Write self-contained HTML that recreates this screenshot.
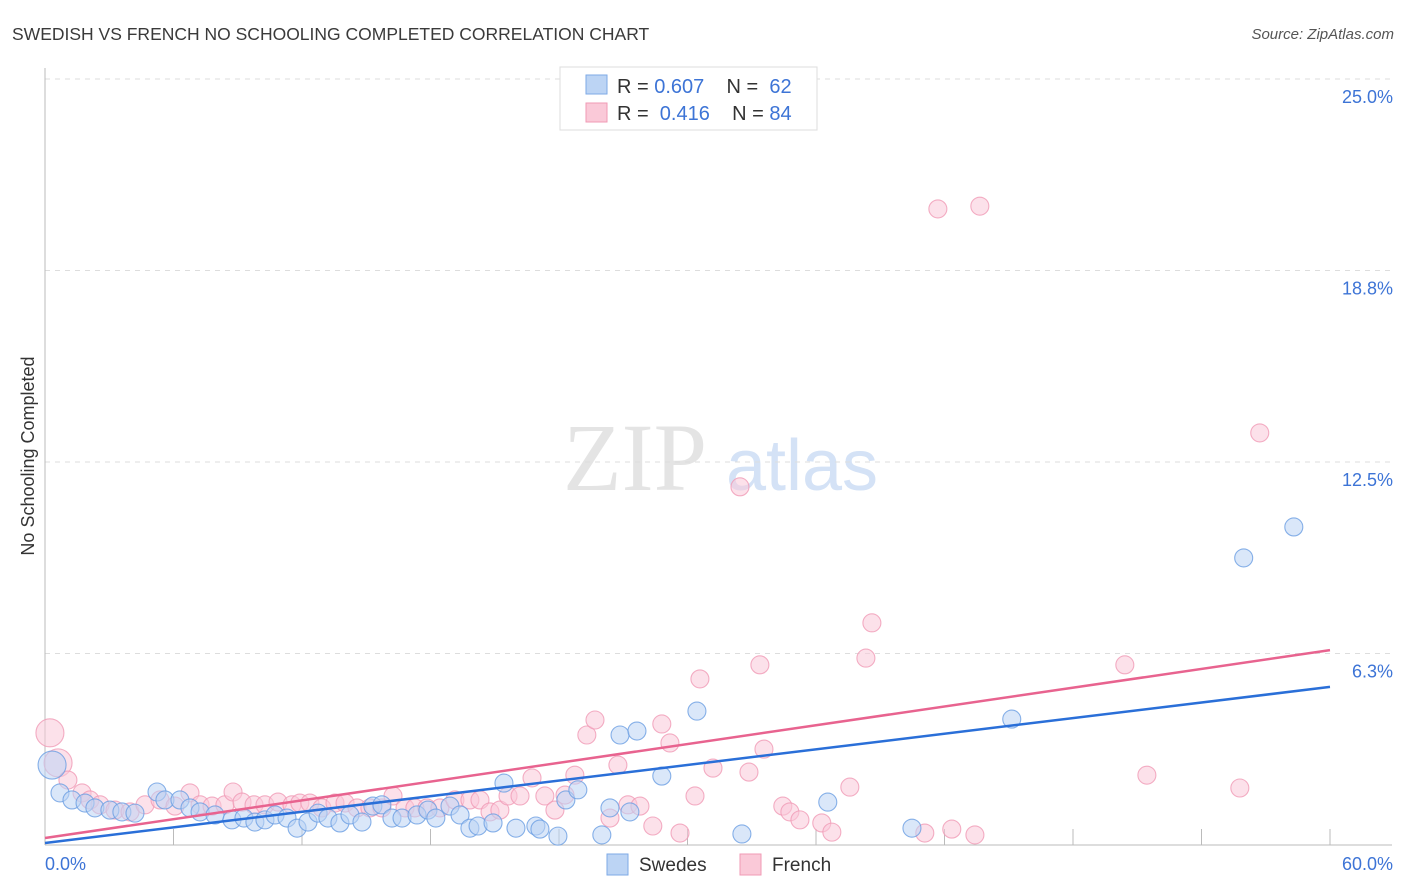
<!DOCTYPE html>
<html><head><meta charset="utf-8"><style>
body{margin:0;background:#fff;font-family:"Liberation Sans",sans-serif;}
svg{display:block}
</style></head><body>
<svg id="chart" width="1406" height="892" viewBox="0 0 1406 892" xmlns="http://www.w3.org/2000/svg">
<text x="12" y="40" font-size="17.5" fill="#3a3a3a">SWEDISH VS FRENCH NO SCHOOLING COMPLETED CORRELATION CHART</text>
<text x="1394" y="39" font-size="15" fill="#555" font-style="italic" text-anchor="end">Source: ZipAtlas.com</text>
<text transform="translate(34,456) rotate(-90)" font-size="18" fill="#333" text-anchor="middle">No Schooling Completed</text>
<g>
<text x="635" y="490" font-size="96" font-family="Liberation Serif,serif" fill="#e4e4e4" text-anchor="middle">ZIP</text>
<text x="802" y="490" font-size="72" fill="#d4e2f6" text-anchor="middle">atlas</text>
</g>
<g id="grid"></g>
<g id="axes"></g>
<g id="points"></g>
<g id="trends"></g>
<g>
<rect x="560" y="67" width="257" height="63" fill="#fff" stroke="#ddd"/>
<rect x="586" y="75" width="21" height="19" fill="#bcd4f4" stroke="#7eaae6"/>
<rect x="586" y="103" width="21" height="19" fill="#fac9d8" stroke="#f09ab5"/>
<text x="617" y="93" font-size="20" fill="#333" xml:space="preserve">R = <tspan fill="#3d74d6">0.607</tspan>    N =  <tspan fill="#3d74d6">62</tspan></text>
<text x="617" y="120" font-size="20" fill="#333" xml:space="preserve">R =  <tspan fill="#3d74d6">0.416</tspan>    N = <tspan fill="#3d74d6">84</tspan></text>
</g>
<g>
<rect x="607" y="854" width="21" height="21" fill="#bcd4f4" stroke="#7eaae6"/>
<text x="639" y="871" font-size="19" fill="#333">Swedes</text>
<rect x="740" y="854" width="21" height="21" fill="#fac9d8" stroke="#f09ab5"/>
<text x="772" y="871" font-size="19" fill="#333">French</text>
</g>
</svg>
<script>
const yTicks=[6.25,12.5,18.75,25];
const yTickLabels=["6.3%","12.5%","18.8%","25.0%"];
const xTickLabels=["0.0%","60.0%"];
const swedesX=[0.33,0.70,1.26,1.87,2.33,3.03,3.59,4.20,5.23,5.60,6.30,6.77,7.24,7.94,8.73,9.29,9.80,10.27,10.74,11.30,11.77,12.28,12.75,13.21,13.77,14.24,14.80,15.31,15.73,16.20,16.67,17.37,17.88,18.25,18.91,19.38,19.84,20.22,20.92,21.43,21.99,22.92,23.11,23.95,24.32,24.88,26.00,26.38,26.85,27.31,27.64,28.80,30.44,32.54,36.55,40.48,45.14,55.97,58.31];
const swedesY=[2.61,1.70,1.47,1.37,1.21,1.14,1.08,1.04,1.73,1.47,1.47,1.21,1.08,0.98,0.82,0.88,0.75,0.82,0.98,0.88,0.55,0.75,1.04,0.88,0.72,0.98,0.75,1.27,1.31,0.88,0.88,0.98,1.14,0.88,1.27,0.98,0.55,0.62,0.72,2.02,0.55,0.62,0.52,0.29,1.47,1.80,0.33,1.21,3.59,1.08,3.72,2.25,4.37,0.36,1.40,0.55,4.11,9.37,10.38];
const frenchX=[0.23,0.61,1.07,1.73,2.10,2.57,3.27,3.97,4.67,5.37,6.07,6.77,7.24,7.80,8.40,8.78,9.20,9.76,10.27,10.88,11.53,11.90,12.37,12.93,13.54,14.01,14.57,15.17,15.73,16.25,16.81,17.27,17.83,18.44,19.14,19.84,20.31,20.78,21.24,21.62,22.18,22.74,23.34,23.81,24.28,24.74,25.30,25.68,26.38,26.75,27.22,27.78,28.38,28.80,29.18,29.65,30.35,30.58,31.19,32.45,32.87,33.38,33.57,34.45,34.78,35.25,36.27,36.74,37.58,38.33,38.61,41.08,41.69,42.34,43.65,43.42,50.42,51.45,55.79,56.72];
const frenchY=[3.66,2.68,2.12,1.70,1.47,1.31,1.14,1.08,1.31,1.47,1.27,1.70,1.31,1.27,1.31,1.73,1.40,1.31,1.31,1.40,1.31,1.37,1.37,1.21,1.37,1.37,1.21,1.21,1.21,1.60,1.21,1.21,1.21,1.21,1.47,1.47,1.47,1.08,1.14,1.60,1.60,2.19,1.60,1.14,1.63,2.28,3.59,4.08,0.88,2.61,1.31,1.27,0.62,3.95,3.33,0.39,1.60,5.42,2.51,11.69,2.38,5.88,3.13,1.27,1.08,0.82,0.72,0.42,1.89,6.10,7.25,0.39,20.76,0.52,20.85,0.33,5.88,2.28,1.86,13.45];
const swedesTrend=[0.065,5.16];
const frenchTrend=[0.23,6.36];
const X0=45,X1=1330,Y0=845,Y1=79;
const xs=v=>X0+(v/60)*(X1-X0);
const ys=v=>Y0-(v/25)*(Y0-Y1);
const NS="http://www.w3.org/2000/svg";
function mk(tag,attrs,parent){const e=document.createElementNS(NS,tag);for(const k in attrs)e.setAttribute(k,attrs[k]);parent.appendChild(e);return e;}
const grid=document.getElementById('grid'),axes=document.getElementById('axes');
yTicks.forEach((t,i)=>{
 const l=mk('line',{x1:X0,x2:1392,y1:ys(t),y2:ys(t),stroke:'#ddd','stroke-dasharray':'5,5'},grid);
 
 
 const tx=mk('text',{x:1393,y:ys(t)+24,'font-size':18,fill:'#3d74d6','text-anchor':'end'},axes);
 tx.textContent=yTickLabels[i];
 
 
});
const ax=mk('line',{x1:X0,x2:X0,y1:68,y2:Y0,stroke:'#bbb'},axes);


const bx=mk('line',{x1:X0,x2:1392,y1:Y0,y2:Y0,stroke:'#bbb'},axes);


for(let k=1;k<=10;k++){const t=mk('line',{x1:xs(k*6),x2:xs(k*6),y1:Y0,y2:Y0-16,stroke:'#bbb'},axes);
 
 }
[[0,xTickLabels[0],'start',45],[60,xTickLabels[1],'end',1393]].forEach(a=>{
 const t=mk('text',{x:a[3],y:870,'font-size':18,fill:'#3d74d6','text-anchor':a[2]},axes);t.textContent=a[1];
 
 });
const pts=document.getElementById('points');
function drawSeries(X,Y,fill,stroke,name){X.forEach((x,i)=>{
 let r=9; if(x<1&&Y[i]>2.4) r=14;
 const c=mk('circle',{cx:xs(x),cy:ys(Y[i]),r:r,fill:fill,'fill-opacity':0.55,stroke:stroke,'stroke-opacity':0.8,'stroke-width':1.1},pts);
 
 });}
drawSeries(frenchX,frenchY,'#fac9d8','#f09ab5','french-point');
drawSeries(swedesX,swedesY,'#bcd4f4','#6a9de2','swedes-point');
const tr=document.getElementById('trends');
const t1=mk('line',{x1:xs(0),y1:ys(frenchTrend[0]),x2:xs(60),y2:ys(frenchTrend[1]),stroke:'#e8638f','stroke-width':2.5},tr);


const t2=mk('line',{x1:xs(0),y1:ys(swedesTrend[0]),x2:xs(60),y2:ys(swedesTrend[1]),stroke:'#2a6fd8','stroke-width':2.5},tr);


</script>
</body></html>
